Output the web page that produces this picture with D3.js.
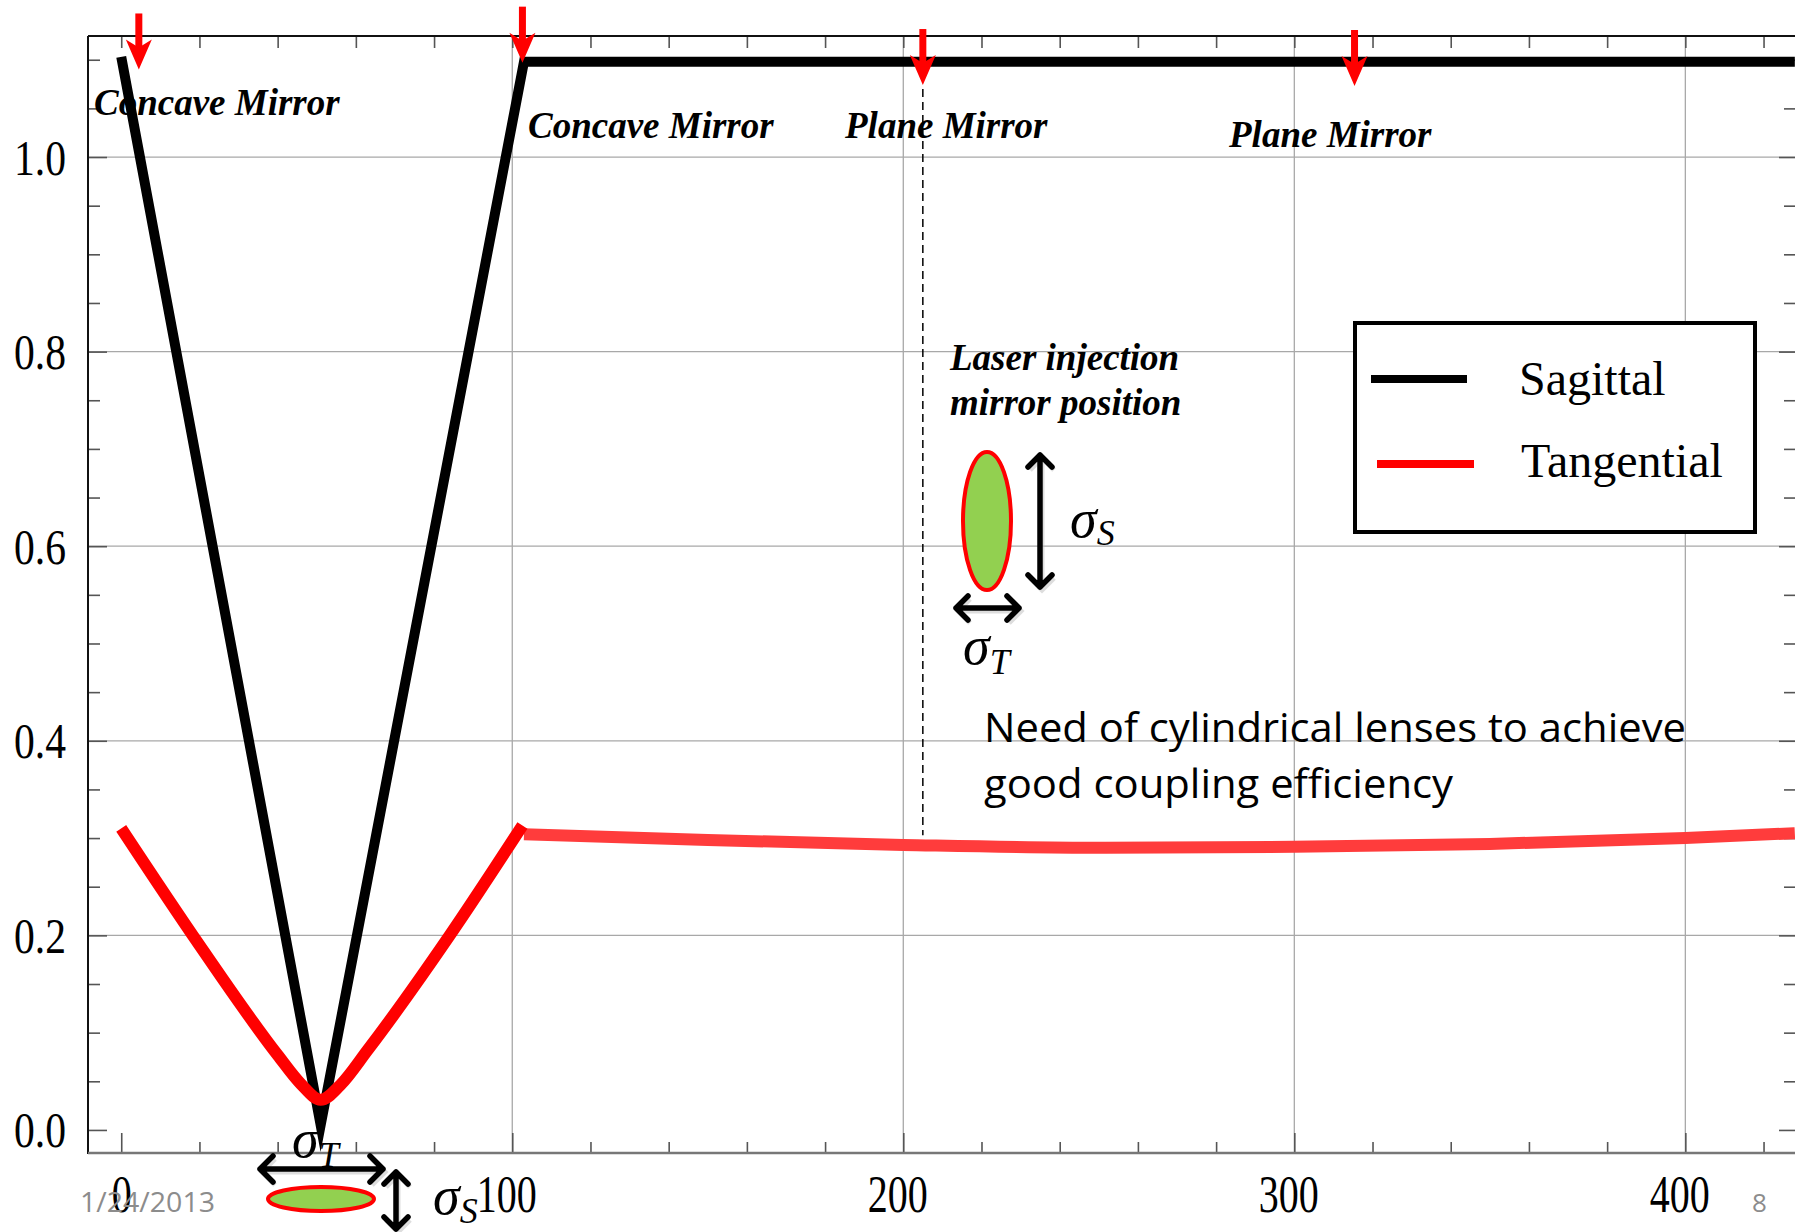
<!DOCTYPE html>
<html>
<head>
<meta charset="utf-8">
<script src="https://cdn.jsdelivr.net/npm/d3@7"></script>
<style>
body { margin: 0; background: #fff; }
svg { display: block; }
</style>
</head>
<body>
<svg width="1795" height="1232"></svg>
<script>
// beam size along the line
var sagX = [0, 51, 103, 428];
var sagY = [1.103, 0.005, 1.098, 1.098];

var tanLeftX = [0, 20, 40, 46, 51, 56, 63, 84, 102.6];
var tanLeftY = [0.31, 0.19, 0.077, 0.047, 0.031, 0.046, 0.082, 0.2, 0.313];
var tanRightX = [103, 150, 200, 250, 300, 350, 400, 428];
var tanRightY = [0.304, 0.298, 0.293, 0.29, 0.291, 0.294, 0.3, 0.305];

// mirrors (red arrows) and the injection mirror marker
var mirrorX = [4.5, 102.6, 205, 315.4];
var mirrorTipY = [1.09, 1.097, 1.074, 1.073];
var injectionX = 205;
var injectionY = [1.07, 0.303];

var xMajor = [0, 100, 200, 300, 400];
var xLabels = ["0", "100", "200", "300", "400"];
var yMajor = [0, 0.2, 0.4, 0.6, 0.8, 1.0];
var yLabels = ["0.0", "0.2", "0.4", "0.6", "0.8", "1.0"];
var legendNames = ["Sagittal", "Tangential"];
var legendColors = ["#000000", "#ff0000"];

var svg = d3.select("svg");
var serif = "'Liberation Serif', 'Times New Roman', serif";
var sans = "'Open Sans', 'Liberation Sans', sans-serif";

var x = d3.scaleLinear().domain([-8.5, 428.3]).range([88, 1796]);
var y = d3.scaleLinear().domain([-0.0237, 1.1244]).range([1153, 36]);

var xMinor = d3.range(0, 421, 20).filter(function(d) { return d % 100 != 0; });
var xAll = d3.range(0, 421, 20);
var yAll = d3.range(0, 23).map(function(i) { return +(i * 0.05).toFixed(2); });
var yMinor = yAll.filter(function(d) { return Math.round(d * 100) % 20 != 0; });

// grid
svg.append("g").selectAll("line")
  .data(xMajor.filter(function(d) { return d > 0; }))
  .join("line")
  .attr("x1", function(d) { return x(d); }).attr("x2", function(d) { return x(d); })
  .attr("y1", 36).attr("y2", 1153)
  .style("stroke", "#a8a8a8").style("stroke-width", 1.3);
svg.append("g").selectAll("line")
  .data(yMajor.filter(function(d) { return d > 0; }))
  .join("line")
  .attr("y1", function(d) { return y(d); }).attr("y2", function(d) { return y(d); })
  .attr("x1", 88).attr("x2", 1796)
  .style("stroke", "#a8a8a8").style("stroke-width", 1.3);

// axes
function styleAxis(g) {
  g.select(".domain").remove();
  g.selectAll(".tick line").style("stroke", "#555").style("stroke-width", 1.6);
}

var gxB = svg.append("g").attr("transform", "translate(0,1153)")
  .call(d3.axisBottom(x).tickValues(xMajor).tickSize(-20).tickFormat(function(d, i) { return xLabels[i]; }))
  .call(styleAxis);
gxB.selectAll("text")
  .attr("y", 59).attr("dy", null)
  .attr("dx", function(d) { return d == 0 ? 0 : -6; })
  .attr("textLength", function(d, i) { return xLabels[i].length * 20; })
  .attr("lengthAdjust", "spacingAndGlyphs")
  .style("font-family", serif).style("font-size", "52px").style("fill", "#000");
svg.append("g").attr("transform", "translate(0,1153)")
  .call(d3.axisBottom(x).tickValues(xMinor).tickSize(-11).tickFormat(""))
  .call(styleAxis);
svg.append("g").attr("transform", "translate(0,36)")
  .call(d3.axisTop(x).tickValues(xAll).tickSize(-12).tickFormat(""))
  .call(styleAxis);

var gyL = svg.append("g").attr("transform", "translate(88,0)")
  .call(d3.axisLeft(y).tickValues(yMajor).tickSize(-19).tickFormat(function(d, i) { return yLabels[i]; }))
  .call(styleAxis);
gyL.selectAll("text")
  .attr("x", -74).attr("dy", "0.34em")
  .attr("text-anchor", "start")
  .attr("textLength", 52)
  .attr("lengthAdjust", "spacingAndGlyphs")
  .style("font-family", serif).style("font-size", "50px").style("fill", "#000");
svg.append("g").attr("transform", "translate(88,0)")
  .call(d3.axisLeft(y).tickValues(yMinor).tickSize(-12).tickFormat(""))
  .call(styleAxis);
svg.append("g").attr("transform", "translate(1796,0)")
  .call(d3.axisRight(y).tickValues(yMajor).tickSize(-17).tickFormat(""))
  .call(styleAxis);
svg.append("g").attr("transform", "translate(1796,0)")
  .call(d3.axisRight(y).tickValues(yMinor).tickSize(-12).tickFormat(""))
  .call(styleAxis);

// frame
svg.append("line").attr("x1", 88).attr("x2", 88).attr("y1", 36).attr("y2", 1154)
  .style("stroke", "#111").style("stroke-width", 2);
svg.append("line").attr("x1", 88).attr("x2", 1796).attr("y1", 36).attr("y2", 36)
  .style("stroke", "#111").style("stroke-width", 2);
svg.append("line").attr("x1", 88).attr("x2", 1796).attr("y1", 1153).attr("y2", 1153)
  .style("stroke", "#777").style("stroke-width", 2.5);

// injection mirror dashed marker
svg.append("line")
  .attr("x1", x(injectionX)).attr("x2", x(injectionX))
  .attr("y1", y(injectionY[0])).attr("y2", y(injectionY[1]))
  .style("stroke", "#000").style("stroke-width", 1.5).style("stroke-dasharray", "8,5");

// curves
var line = d3.line().x(function(d) { return x(d[0]); }).y(function(d) { return y(d[1]); });
var smooth = d3.line().x(function(d) { return x(d[0]); }).y(function(d) { return y(d[1]); }).curve(d3.curveMonotoneX);

svg.append("path")
  .attr("d", line(d3.zip(sagX, sagY)))
  .style("fill", "none").style("stroke", "#000").style("stroke-width", 10)
  .style("stroke-linejoin", "miter").style("stroke-miterlimit", 6);

svg.append("path")
  .attr("d", smooth(d3.zip(tanRightX, tanRightY)))
  .style("fill", "none").style("stroke", "#ff3c3c").style("stroke-width", 12);
svg.append("path")
  .attr("d", smooth(d3.zip(tanLeftX, tanLeftY)))
  .style("fill", "none").style("stroke", "#ff0000").style("stroke-width", 12)
  .style("stroke-linejoin", "round");

// mirror arrows
mirrorX.forEach(function(m, i) {
  var cx = x(m), tip = y(mirrorTipY[i]);
  svg.append("line")
    .attr("x1", cx).attr("x2", cx).attr("y1", tip - 56).attr("y2", tip - 20)
    .style("stroke", "#ff0000").style("stroke-width", 7);
  svg.append("path")
    .attr("d", "M" + (cx - 13) + "," + (tip - 30) + "L" + cx + "," + (tip - 22) + "L" + (cx + 13) + "," + (tip - 30) + "L" + cx + "," + tip + "Z")
    .style("fill", "#ff0000");
});

// mirror labels
var labels = [
  { t: "Concave Mirror", px: 94, py: 115 },
  { t: "Concave Mirror", px: 528, py: 138 },
  { t: "Plane Mirror", px: 845, py: 138 },
  { t: "Plane Mirror", px: 1229, py: 147 },
  { t: "Laser injection", px: 950, py: 370 },
  { t: "mirror position", px: 950, py: 415 }
];
svg.append("g").selectAll("text").data(labels).join("text")
  .attr("x", function(d) { return d.px; }).attr("y", function(d) { return d.py; })
  .text(function(d) { return d.t; })
  .style("font-family", serif).style("font-size", "37px")
  .style("font-weight", "bold").style("font-style", "italic").style("fill", "#000");

// note
svg.append("text").attr("x", 984).attr("y", 742)
  .attr("textLength", 702).attr("lengthAdjust", "spacingAndGlyphs")
  .text("Need of cylindrical lenses to achieve")
  .style("font-family", sans).style("font-size", "40px").style("fill", "#000");
svg.append("text").attr("x", 984).attr("y", 798)
  .attr("textLength", 469).attr("lengthAdjust", "spacingAndGlyphs")
  .text("good coupling efficiency")
  .style("font-family", sans).style("font-size", "40px").style("fill", "#000");

// legend
svg.append("rect").attr("x", 1355).attr("y", 323).attr("width", 400).attr("height", 209)
  .style("fill", "#fff").style("stroke", "#000").style("stroke-width", 4);
var legY = [379, 464], legLine = [[1371, 1467], [1377, 1474]], legText = [[1519, 395], [1521, 477]];
legendNames.forEach(function(n, i) {
  svg.append("line").attr("x1", legLine[i][0]).attr("x2", legLine[i][1])
    .attr("y1", legY[i]).attr("y2", legY[i])
    .style("stroke", legendColors[i]).style("stroke-width", 8);
  svg.append("text").attr("x", legText[i][0]).attr("y", legText[i][1]).text(n)
    .style("font-family", serif).style("font-size", "48px").style("fill", "#000");
});

// beam spot sketches
function doubleArrow(x1, y1, x2, y2, h) {
  var dx = x2 - x1, dy = y2 - y1, L = Math.sqrt(dx * dx + dy * dy);
  var ux = dx / L, uy = dy / L, nx = -uy, ny = ux;
  var p = "M" + x1 + "," + y1 + "L" + x2 + "," + y2;
  p += "M" + (x2 - ux * h + nx * h) + "," + (y2 - uy * h + ny * h) + "L" + x2 + "," + y2 +
       "L" + (x2 - ux * h - nx * h) + "," + (y2 - uy * h - ny * h);
  p += "M" + (x1 + ux * h + nx * h) + "," + (y1 + uy * h + ny * h) + "L" + x1 + "," + y1 +
       "L" + (x1 + ux * h - nx * h) + "," + (y1 + uy * h - ny * h);
  svg.append("path").attr("d", p).attr("transform", "translate(2,3)")
    .style("fill", "none").style("stroke", "#bbb").style("stroke-width", 5).style("opacity", 0.5);
  svg.append("path").attr("d", p)
    .style("fill", "none").style("stroke", "#000").style("stroke-width", 5.5)
    .style("stroke-linecap", "round").style("stroke-linejoin", "round");
}
function sigma(px, py, sub, subDy) {
  var t = svg.append("text").attr("x", px).attr("y", py)
    .style("font-family", serif).style("font-style", "italic").style("font-size", "54px").style("fill", "#000");
  t.append("tspan").text("\u03c3");
  t.append("tspan").attr("dy", subDy).style("font-size", "36px").text(sub);
}

svg.append("ellipse").attr("cx", 987).attr("cy", 521).attr("rx", 24).attr("ry", 69)
  .style("fill", "#92d050").style("stroke", "#ff0000").style("stroke-width", 4);
doubleArrow(1040, 455, 1040, 587, 12);
doubleArrow(956, 608, 1019, 608, 12);
sigma(1070, 537, "S", 8);
sigma(963, 664, "T", 10);

svg.append("ellipse").attr("cx", 321).attr("cy", 1199).attr("rx", 53).attr("ry", 12)
  .style("fill", "#92d050").style("stroke", "#ff0000").style("stroke-width", 4);
doubleArrow(260, 1169, 383, 1169, 13);
doubleArrow(396, 1172, 396, 1229, 12);
sigma(292, 1157, "T", 10);
sigma(433, 1214, "S", 9);

// footer
svg.append("text").attr("x", 80).attr("y", 1212)
  .attr("textLength", 135).attr("lengthAdjust", "spacingAndGlyphs")
  .text("1/24/2013")
  .style("font-family", sans).style("font-size", "28px").style("fill", "#8c8c8c");
svg.append("text").attr("x", 1752).attr("y", 1212).text("8")
  .style("font-family", sans).style("font-size", "26px").style("fill", "#8c8c8c");
</script>
</body>
</html>
